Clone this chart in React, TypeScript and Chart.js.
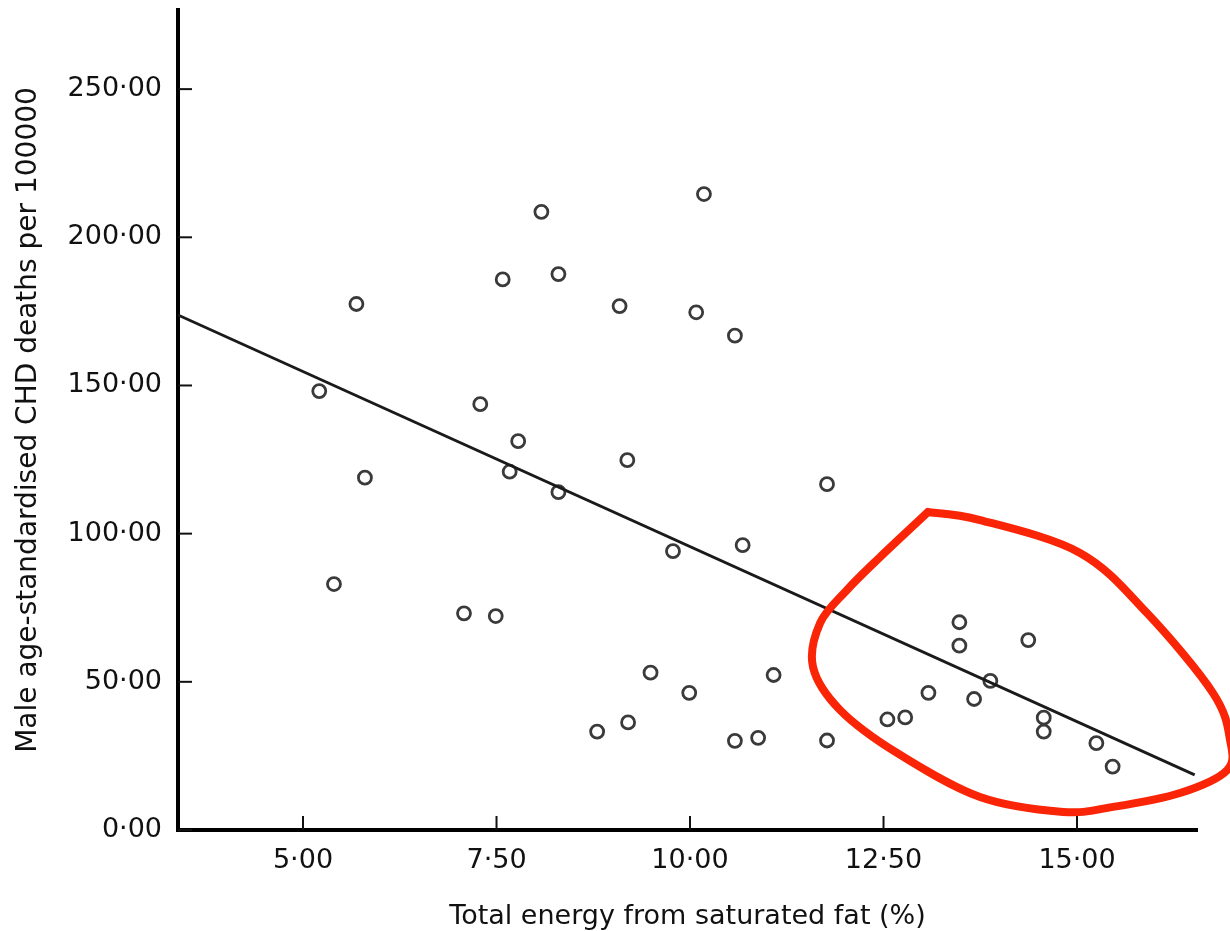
import React, { useEffect, useRef } from "react";
import { Chart, registerables } from "chart.js";

Chart.register(...registerables);

// Scatter data: total energy from saturated fat (%) vs male CHD deaths per 100000
const satFatPct = [
  5.21, 5.4, 5.69, 5.8, 7.08, 7.29, 7.49, 7.58, 7.67, 7.78, 8.08, 8.3, 8.3, 8.8,
  9.09, 9.19, 9.2, 9.49, 9.78, 9.99, 10.08, 10.18, 10.58, 10.58, 10.68, 10.88,
  11.08, 11.77, 11.77, 12.55, 12.78, 13.08, 13.48, 13.48, 13.67, 13.88, 14.37,
  14.57, 14.57, 15.25, 15.46,
];
const chdDeaths = [
  148.1, 83.0, 177.5, 118.9, 73.1, 143.7, 72.2, 185.8, 120.9, 131.2, 208.6,
  187.6, 114.0, 33.2, 176.8, 124.8, 36.3, 53.1, 94.1, 46.3, 174.7, 214.6, 30.1,
  166.8, 96.1, 31.1, 52.3, 116.7, 30.2, 37.3, 38.0, 46.3, 70.1, 62.2, 44.2, 50.3,
  64.1, 37.9, 33.2, 29.3, 21.4,
];

// Fitted regression line end points
const fitX = [3.385, 16.52];
const fitY = [173.8, 18.6];

// Axis ranges and ticks
const xRange = [3.385, 16.55];
const yRange = [0, 276.7];
const xStep = 2.5;
const yStep = 50;

const xTitle = "Total energy from saturated fat (%)";
const yTitle = "Male age-standardised CHD deaths per 100000";

// Hand-drawn red highlight outline (data units)
const highlightX = [
  13.075, 13.747, 15.039, 15.904, 16.757, 16.977, 16.938, 16.331, 15.465, 14.819,
  13.747, 12.674, 11.938, 11.589, 11.68, 12.028, 12.455,
];
const highlightY = [
  107.3, 104.6, 93.5, 73.2, 46.2, 30.4, 20.2, 12.5, 7.8, 6.1, 11.1, 26.0, 40.5,
  55.0, 69.8, 81.0, 92.1,
];

const FONT = "'DejaVu Sans', 'Liberation Sans', Arial, sans-serif";
const fmt = (v: number) => v.toFixed(2).replace(".", "\u00B7");

const insideTicks = {
  id: "insideTicks",
  afterDraw(chart: any) {
    const { ctx, chartArea, scales } = chart;
    ctx.save();
    ctx.strokeStyle = "#111";
    ctx.lineWidth = 2;
    for (const t of scales.x.ticks) {
      const px = scales.x.getPixelForValue(t.value);
      ctx.beginPath();
      ctx.moveTo(px, chartArea.bottom);
      ctx.lineTo(px, chartArea.bottom - 14);
      ctx.stroke();
    }
    for (const t of scales.y.ticks) {
      const py = scales.y.getPixelForValue(t.value);
      ctx.beginPath();
      ctx.moveTo(chartArea.left, py);
      ctx.lineTo(chartArea.left + 14, py);
      ctx.stroke();
    }
    ctx.restore();
  },
};

const highlight = {
  id: "highlight",
  afterDraw(chart: any) {
    const { ctx, scales } = chart;
    const pts = highlightX.map((x, i) => ({
      x: scales.x.getPixelForValue(x),
      y: scales.y.getPixelForValue(highlightY[i]),
    }));
    pts.push(pts[0]);
    const n = pts.length;
    ctx.save();
    ctx.strokeStyle = "rgb(250, 36, 6)";
    ctx.lineWidth = 8;
    ctx.lineJoin = "round";
    ctx.lineCap = "round";
    ctx.beginPath();
    ctx.moveTo(pts[0].x, pts[0].y);
    for (let i = 0; i < n - 1; i++) {
      const p0 = i === 0 ? pts[0] : pts[i - 1];
      const p1 = pts[i];
      const p2 = pts[i + 1];
      const p3 = i + 2 < n ? pts[i + 2] : pts[n - 1];
      const c1x = p1.x + (p2.x - p0.x) / 6;
      const c1y = p1.y + (p2.y - p0.y) / 6;
      const c2x = p2.x - (p3.x - p1.x) / 6;
      const c2y = p2.y - (p3.y - p1.y) / 6;
      ctx.bezierCurveTo(c1x, c1y, c2x, c2y, p2.x, p2.y);
    }
    ctx.stroke();
    ctx.restore();
  },
};

export default function App() {
  const ref = useRef<HTMLCanvasElement>(null);

  useEffect(() => {
    if (!ref.current) return;
    const chart = new Chart(ref.current, {
      type: "scatter",
      data: {
        datasets: [
          {
            label: "fit",
            data: fitX.map((x, i) => ({ x, y: fitY[i] })),
            showLine: true,
            borderColor: "#1a1a1a",
            borderWidth: 2.8,
            pointRadius: 0,
            fill: false,
          },
          {
            label: "countries",
            data: satFatPct.map((x, i) => ({ x, y: chdDeaths[i] })),
            pointRadius: 6.5,
            pointBorderWidth: 2.8,
            pointBorderColor: "#3a3a3a",
            pointBackgroundColor: "rgba(0,0,0,0)",
            showLine: false,
          },
        ],
      },
      options: {
        responsive: false,
        animation: false,
        devicePixelRatio: 1,
        layout: { padding: { top: 10, right: 33, left: 0, bottom: 0 } },
        plugins: {
          legend: { display: false },
          tooltip: { enabled: false },
        },
        scales: {
          x: {
            type: "linear",
            min: xRange[0],
            max: xRange[1],
            afterFit: (s: any) => {
              s.height = 101;
              s.paddingLeft = 0;
              s.paddingRight = 0;
            },
            grid: { display: false, drawTicks: false },
            border: { display: true, color: "#000", width: 4 },
            ticks: {
              stepSize: xStep,
              includeBounds: false,
              padding: 15,
              color: "#111",
              font: { family: FONT, size: 27 },
              callback: (v: any) => fmt(Number(v)),
            },
            title: {
              display: true,
              text: xTitle,
              color: "#111",
              font: { family: FONT, size: 27, lineHeight: 1 },
              padding: { top: 0, bottom: 1 },
            },
          },
          y: {
            type: "linear",
            min: yRange[0],
            max: yRange[1],
            afterFit: (s: any) => {
              s.width = 178;
              s.paddingTop = 0;
              s.paddingBottom = 0;
            },
            grid: { display: false, drawTicks: false },
            border: { display: true, color: "#000", width: 4 },
            ticks: {
              stepSize: yStep,
              includeBounds: false,
              padding: 16,
              color: "#111",
              font: { family: FONT, size: 27 },
              callback: (v: any) => fmt(Number(v)),
            },
            title: {
              display: true,
              text: yTitle,
              color: "#111",
              font: { family: FONT, size: 28, lineHeight: 1.2 },
              padding: { top: 12, bottom: 0 },
            },
          },
        },
      },
      plugins: [insideTicks, highlight],
    });
    return () => chart.destroy();
  }, []);

  return (
    <div style={{ position: "absolute", left: 0, top: 0, width: 1230, height: 931, background: "#fff" }}>
      <canvas ref={ref} width={1230} height={931} style={{ display: "block" }} />
    </div>
  );
}
